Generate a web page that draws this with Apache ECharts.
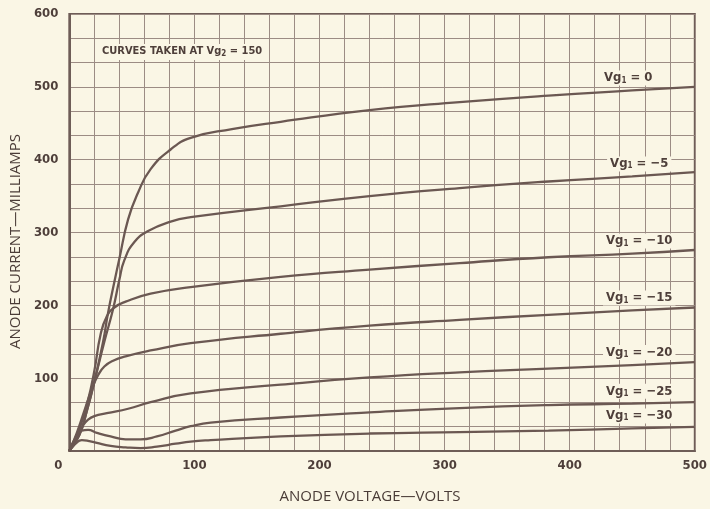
<!DOCTYPE html>
<html>
<head>
<meta charset="utf-8">
<script src="https://cdn.jsdelivr.net/npm/echarts@6/dist/echarts.min.js"></script>
<style>
  html, body { margin: 0; padding: 0; background: #faf6e5; }
  #main { width: 710px; height: 509px; }
</style>
</head>
<body>
<div id="main"></div>
<script>
// anode voltage (V) / anode current (mA) pairs
const vg0 = [[0,0],[8,22],[14,55],[20,95],[27,150],[31,190],[36,232],[40,264],[47,318],[55,355],[65,387],[81,414],[97,430],[130,442],[169,452],[240,468],[312,479],[383,488],[450,495],[500,500]]
const vg5 = [[0,0],[8,22],[14,55],[20,95],[28,150],[35,195],[40,235],[44,262],[52,287],[63,302],[81,315],[97,321],[169,336],[240,350],[312,361],[383,370],[450,377],[500,383]]
const vg10 = [[0,0],[8,30],[15,70],[20,110],[25,160],[30,185],[36,197],[45,205],[65,216],[97,225],[169,239],[240,249],[312,258],[383,266],[450,271],[500,276]]
const vg15 = [[0,0],[6,25],[12,55],[18,85],[23,104],[28,116],[35,124],[45,130],[65,138],[97,148],[169,161],[240,172],[312,180],[383,187],[450,193],[500,197]]
const vg20 = [[0,0],[5,18],[10,33],[15,43],[20,48],[30,52],[47,58],[65,67],[97,79],[169,91],[240,101],[312,108],[383,113],[450,118],[500,122]]
const vg25 = [[0,0],[5,18],[10,28],[15,29],[22,25],[33,20],[45,16],[57,16],[70,20],[85,28],[97,34],[113,39],[169,46],[240,53],[312,59],[383,63],[450,65],[500,67]]
const vg30 = [[0,0],[5,10],[10,15],[15,14],[22,11],[33,7],[45,5],[57,4],[70,6],[85,10],[97,13],[113,15],[169,20],[240,24],[312,26],[383,28],[450,31],[500,33]]

const curves = [vg0, vg5, vg10, vg15, vg20, vg25, vg30]
const gridVolts = ['0', '−5', '−10', '−15', '−20', '−25', '−30']
const labelVolt = 450   // curve name sits over this point

const ink = '#6b5852'
const paper = '#faf6e5'
const font = '"Liberation Sans Narrow", "DejaVu Sans Condensed", sans-serif'

const chart = echarts.init(document.getElementById('main'))

const subStyle = { fontSize: 8, fontWeight: 'bold', color: '#4e3f3a', fontFamily: font, padding: [5, 0, 0, 0] }

const series = curves.map((pts, i) => ({
  type: 'line',
  smooth: 0.5,
  showSymbol: true,
  symbol: 'circle',
  symbolSize: 0,
  lineStyle: { color: ink, width: 2.3 },
  itemStyle: { color: ink },
  z: 3,
  data: pts.map(p => p[0] === labelVolt ? {
    value: p,
    label: {
      show: true,
      position: 'top',
      distance: 5,
      offset: [i === 0 ? -4 : 7, 0],
      formatter: 'Vg{s|1} = ' + gridVolts[i],
      color: '#4e3f3a',
      fontFamily: font,
      fontWeight: 'bold',
      fontSize: 13,
      backgroundColor: paper,
      padding: [1, 3],
      rich: { s: subStyle }
    }
  } : p)
}))

chart.setOption({
  backgroundColor: paper,
  animation: false,
  title: {
    text: 'CURVES TAKEN AT Vg{s|2} = 150',
    left: 96,
    top: 43,
    padding: [2, 6],
    backgroundColor: paper,
    textStyle: {
      color: '#4e3f3a', fontFamily: font, fontWeight: 'bold', fontSize: 11,
      rich: { s: subStyle }
    }
  },
  grid: {
    left: 68, right: 13, top: 14, bottom: 56,
    show: true, borderColor: '#6e5d57', borderWidth: 2
  },
  xAxis: {
    type: 'value', min: 0, max: 500, interval: 100,
    name: 'ANODE VOLTAGE—VOLTS',
    nameLocation: 'middle', nameGap: 38,
    nameTextStyle: { color: '#4a3c37', fontFamily: '"Open Sans", sans-serif', fontSize: 15, padding: [0, 24, 0, 0] },
    axisLine: { lineStyle: { color: '#6e5d57', width: 2 } },
    axisTick: { show: false },
    splitLine: { lineStyle: { color: '#9c8c84', width: 1 } },
    minorTick: { show: false, splitNumber: 5 },
    minorSplitLine: { show: true, lineStyle: { color: '#9c8c84', width: 1 } },
    axisLabel: {
      margin: 8, color: '#4e3f3a', fontFamily: font, fontWeight: 'bold', fontSize: 13,
      formatter: v => v === 0 ? '{z|0}' : String(v),
      rich: { z: { color: '#4e3f3a', fontFamily: font, fontWeight: 'bold', fontSize: 13, padding: [0, 22, 0, 0] } }
    }
  },
  yAxis: {
    type: 'value', min: 0, max: 600, interval: 100,
    name: 'ANODE CURRENT—MILLIAMPS',
    nameLocation: 'middle', nameGap: 33, nameRotate: 90,
    nameTextStyle: { color: '#4a3c37', fontFamily: '"Open Sans", sans-serif', fontSize: 15, padding: [0, 18, 0, 0] },
    axisLine: { show: true, lineStyle: { color: '#6e5d57', width: 2 } },
    axisTick: { show: false },
    splitLine: { lineStyle: { color: '#9c8c84', width: 1 } },
    minorTick: { show: false, splitNumber: 3 },
    minorSplitLine: { show: true, lineStyle: { color: '#9c8c84', width: 1 } },
    axisLabel: {
      margin: 11, color: '#4e3f3a', fontFamily: font, fontWeight: 'bold', fontSize: 13,
      formatter: v => v === 0 ? '' : String(v)
    }
  },
  series
})
</script>
</body>
</html>
